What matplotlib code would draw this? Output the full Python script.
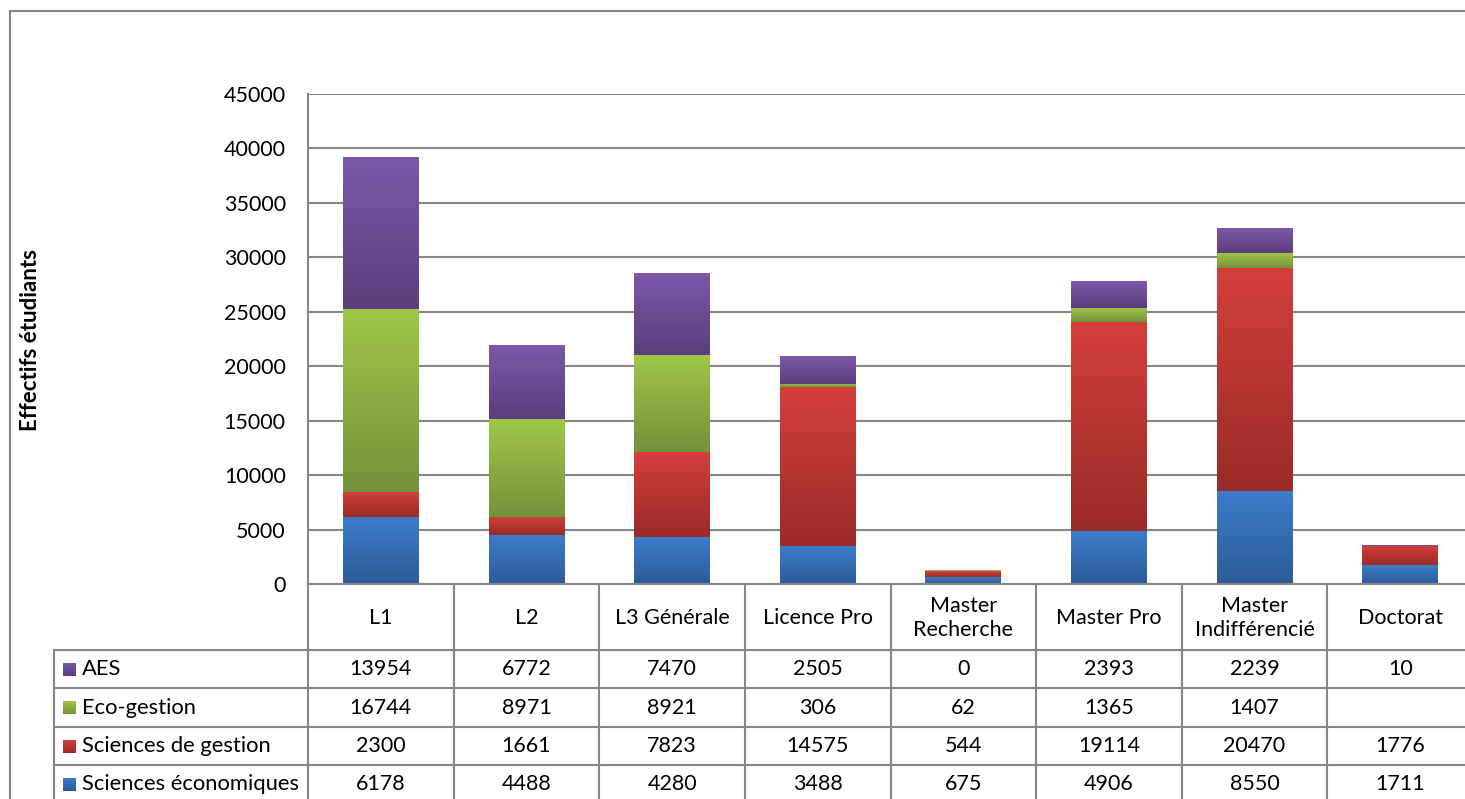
import numpy as np
import matplotlib
matplotlib.use("Agg")
import matplotlib.pyplot as plt
from matplotlib.colors import LinearSegmentedColormap
from matplotlib.patches import Rectangle
from matplotlib.lines import Line2D

plt.rcParams['font.family'] = ['Lato', 'DejaVu Sans']

# Données
categories = ["L1", "L2", "L3 Générale", "Licence Pro", "Master\nRecherche",
              "Master Pro", "Master\nIndifférencié", "Doctorat"]
sci_eco = [6178, 4488, 4280, 3488, 675, 4906, 8550, 1711]
sci_gestion = [2300, 1661, 7823, 14575, 544, 19114, 20470, 1776]
eco_gestion = [16744, 8971, 8921, 306, 62, 1365, 1407, np.nan]
aes = [13954, 6772, 7470, 2505, 0, 2393, 2239, 10]

series_names = ["Sciences économiques", "Sciences de gestion", "Eco-gestion", "AES"]
series_values = [sci_eco, sci_gestion, eco_gestion, aes]
# couleurs (haut, bas) pour le dégradé
series_colors = [("#3C7DCC", "#2C5B97"),
                 ("#D43F3C", "#9A2B28"),
                 ("#9FC748", "#74923A"),
                 ("#7C58A8", "#5B3E7D")]
yticks = [0, 5000, 10000, 15000, 20000, 25000, 30000, 35000, 40000, 45000]

FS = 15.5
W, H = 1465, 799
fig = plt.figure(figsize=(W / 100, H / 100), dpi=100)

def fx(px):
    return px / W

def fy(py):
    return 1 - py / H

# zone du graphique (pixels)
left, right, top, zero = 308, 1473, 94, 584
col_w = (right - left) / len(categories)

ax = fig.add_axes([fx(left), fy(zero), fx(right) - fx(left), fy(top) - fy(zero)])
ax.set_xlim(-0.5, len(categories) - 0.5)
ax.set_ylim(0, 45000)
ax.set_yticks(yticks)
ax.set_yticklabels([str(t) for t in yticks], fontsize=FS)
ax.tick_params(axis="y", length=0, pad=16)
ax.set_xticks([])
for s in ["top", "right", "bottom"]:
    ax.spines[s].set_visible(False)
ax.spines["left"].set_color("#868686")
ax.spines["left"].set_linewidth(1.5)
ax.yaxis.grid(True, color="#868686", linewidth=1.5)
ax.set_axisbelow(True)

grad = np.linspace(0, 1, 256).reshape(-1, 1)
bar_w = 0.52
bottoms = np.zeros(len(categories))
for vals, (c_top, c_bot) in zip(series_values, series_colors):
    cmap = LinearSegmentedColormap.from_list("g", [c_bot, c_top])
    v = np.nan_to_num(np.array(vals, dtype=float))
    for i, h in enumerate(v):
        if h <= 0:
            continue
        ax.imshow(grad, extent=[i - bar_w / 2, i + bar_w / 2, bottoms[i], bottoms[i] + h],
                  origin="lower", cmap=cmap, aspect="auto", zorder=3)
    bottoms += v
ax.set_xlim(-0.5, len(categories) - 0.5)
ax.set_ylim(0, 45000)

# Titre de l'axe Y
fig.text(fx(31), fy(340), "Effectifs étudiants", rotation=90, fontsize=16,
         fontweight="bold", ha="center", va="center")

# Cadre extérieur
fig.add_artist(Rectangle((fx(10), fy(H + 20)), fx(W + 20) - fx(10), fy(11) - fy(H + 20),
                         transform=fig.transFigure, fill=False, edgecolor="#868686", linewidth=1.5))

# Table de données
line_kw = dict(color="#868686", linewidth=1.5, transform=fig.transFigure)
header_bottom = 650
row_h = 38.4
legend_left = 54
n_rows = len(series_names)
row_tops = [header_bottom + k * row_h for k in range(n_rows + 1)]

# lignes verticales des colonnes
for k in range(len(categories) + 1):
    xk = left + k * col_w
    fig.add_artist(Line2D([fx(xk), fx(xk)], [fy(zero), fy(H + 10)], **line_kw))
fig.add_artist(Line2D([fx(legend_left), fx(legend_left)], [fy(header_bottom), fy(H + 10)], **line_kw))
fig.add_artist(Line2D([fx(left), fx(right)], [fy(zero), fy(zero)], **line_kw))
for yk in row_tops:
    fig.add_artist(Line2D([fx(legend_left), fx(right)], [fy(yk), fy(yk)], **line_kw))

# en-têtes
for k, cat in enumerate(categories):
    fig.text(fx(left + (k + 0.5) * col_w), fy((zero + header_bottom) / 2 + 1), cat,
             ha="center", va="center", fontsize=FS, linespacing=1.3)

# lignes de la table (ordre : AES en haut)
for r, idx in enumerate(range(n_rows - 1, -1, -1)):
    yc = row_tops[r] + row_h / 2
    c_top, c_bot = series_colors[idx]
    cmap = LinearSegmentedColormap.from_list("g", [c_bot, c_top])
    lax = fig.add_axes([fx(63), fy(yc + 6.5), fx(13), fy(0) - fy(13)])
    lax.imshow(grad, origin="lower", cmap=cmap, aspect="auto")
    lax.axis("off")
    fig.text(fx(82), fy(yc), series_names[idx], ha="left", va="center", fontsize=15.8)
    for k, val in enumerate(series_values[idx]):
        txt = "" if np.isnan(val) else str(int(val))
        fig.text(fx(left + (k + 0.5) * col_w), fy(yc), txt, ha="center", va="center", fontsize=FS)

fig.savefig("out.png", dpi=100)
